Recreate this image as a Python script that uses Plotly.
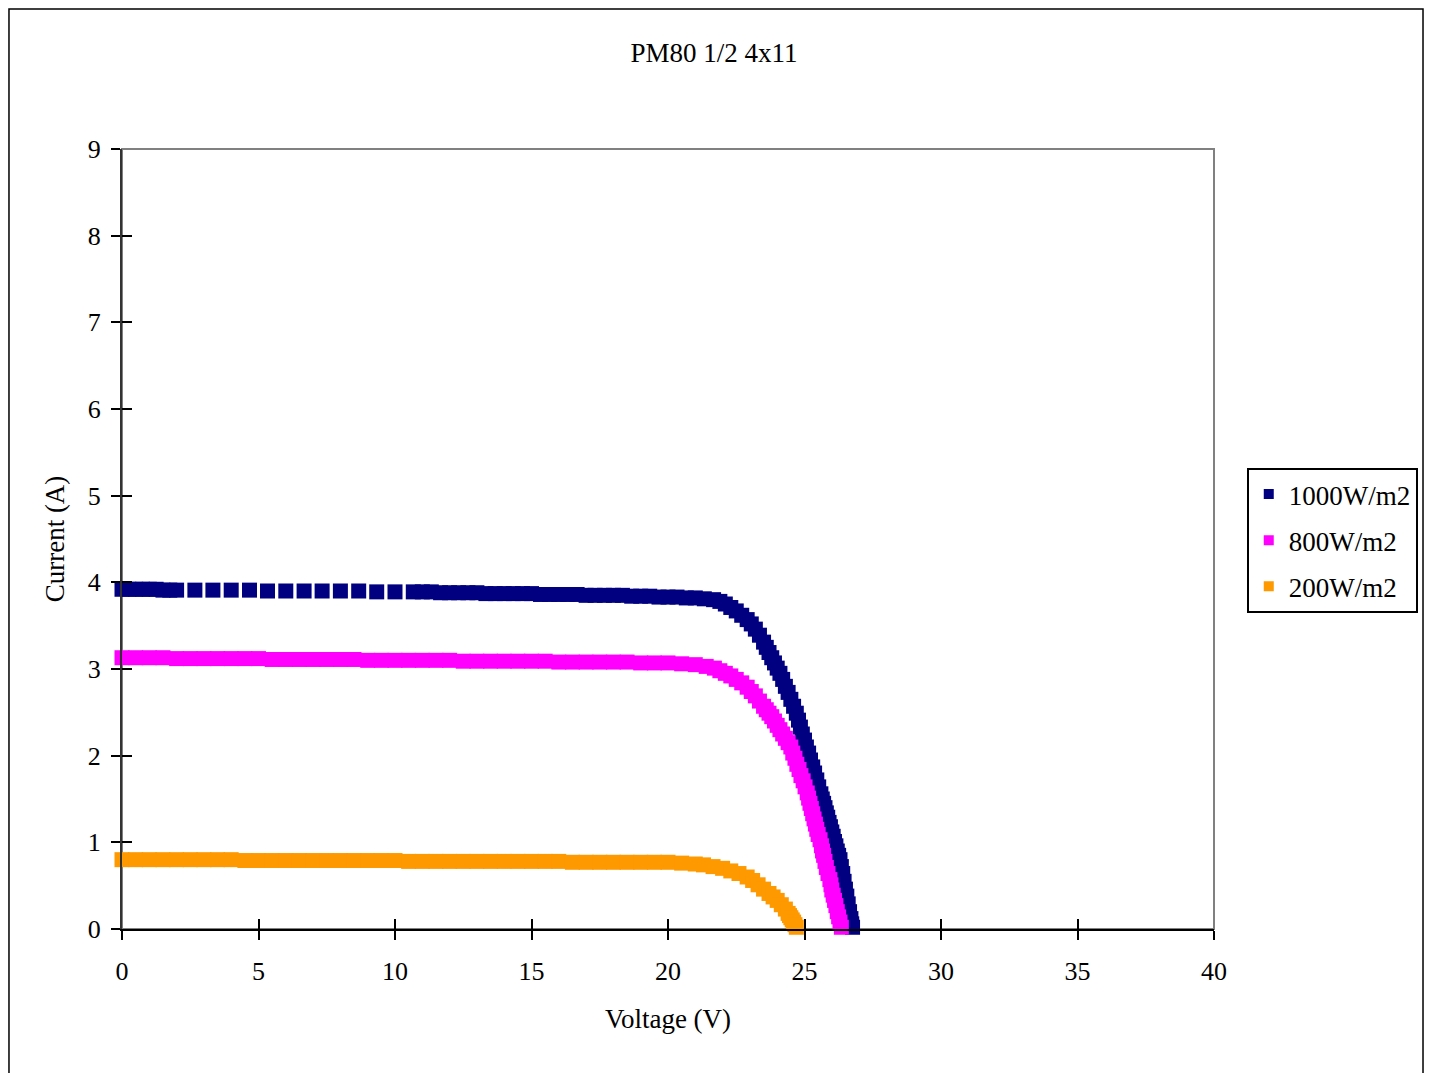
import plotly.graph_objects as go

# ---- data ----
v_1000 = [0, 0.25, 0.5, 0.75, 1.0, 1.25, 1.5, 1.75, 2.0, 2.67, 3.33, 4.0, 4.67, 5.33, 6.0, 6.67,
          7.33, 8.0, 8.67, 9.33, 10.0, 10.67, 11.0, 11.33, 11.67, 12.0, 12.33, 12.67, 13.0, 13.33,
          13.67, 14.0, 14.33, 14.67, 15.0, 15.33, 15.67, 16.0, 16.33, 16.67, 17.0, 17.33, 17.67,
          18.0, 18.33, 18.67, 19.0, 19.33, 19.67, 20.0, 20.33, 20.67, 21.0, 21.33, 21.67,
          21.9, 22.1, 22.3, 22.5, 22.7, 22.9, 23.05, 23.2, 23.35, 23.5, 23.6, 23.7, 23.8, 23.9,
          24.0, 24.1, 24.2, 24.3, 24.4, 24.5, 24.6, 24.7, 24.78, 24.85, 24.92, 25.0, 25.07, 25.15,
          25.22, 25.3, 25.37, 25.45, 25.52, 25.6, 25.65, 25.7, 25.75, 25.8, 25.85, 25.9, 25.95,
          26.0, 26.05, 26.1, 26.15, 26.2, 26.25, 26.3, 26.35, 26.4, 26.45, 26.5, 26.55, 26.6,
          26.65, 26.7, 26.73, 26.76]
i_1000 = [3.92, 3.92, 3.92, 3.92, 3.92, 3.92, 3.91, 3.91, 3.91, 3.91, 3.91, 3.91, 3.91, 3.90, 3.90, 3.90,
          3.90, 3.90, 3.90, 3.89, 3.89, 3.89, 3.89, 3.89, 3.88, 3.88, 3.88, 3.88, 3.88, 3.87,
          3.87, 3.87, 3.87, 3.87, 3.87, 3.86, 3.86, 3.86, 3.86, 3.86, 3.85, 3.85, 3.85,
          3.85, 3.85, 3.84, 3.84, 3.84, 3.83, 3.83, 3.83, 3.82, 3.82, 3.81, 3.80,
          3.78, 3.75, 3.71, 3.67, 3.62, 3.57, 3.52, 3.46, 3.39, 3.31, 3.25, 3.19, 3.13, 3.07,
          3.01, 2.95, 2.88, 2.80, 2.73, 2.65, 2.57, 2.49, 2.41, 2.33, 2.25, 2.18, 2.10, 2.03,
          1.95, 1.87, 1.80, 1.72, 1.64, 1.56, 1.50, 1.45, 1.40, 1.34, 1.29, 1.23, 1.18,
          1.12, 1.07, 1.01, 0.96, 0.90, 0.85, 0.80, 0.72, 0.64, 0.55, 0.46, 0.38, 0.29,
          0.20, 0.12, 0.06, 0.02]

v_800 = [0, 0.5, 1.0, 1.5, 2.0, 2.5, 3.0, 3.5, 4.0, 4.5, 5.0, 5.5, 6.0, 6.5, 7.0, 7.5, 8.0, 8.5,
         9.0, 9.5, 10.0, 10.5, 11.0, 11.5, 12.0, 12.5, 13.0, 13.5, 14.0, 14.5, 15.0, 15.5, 16.0,
         16.5, 17.0, 17.5, 18.0, 18.5, 19.0, 19.5, 20.0, 20.5, 21.0, 21.4, 21.7,
         21.9, 22.1, 22.3, 22.5, 22.7, 22.9, 23.05, 23.2, 23.35, 23.5, 23.6, 23.7, 23.8, 23.9,
         24.0, 24.1, 24.2, 24.3, 24.4, 24.5, 24.57, 24.65, 24.72, 24.8, 24.87, 24.95, 25.02,
         25.1, 25.15, 25.2, 25.25, 25.3, 25.35, 25.4, 25.45, 25.5, 25.57, 25.62, 25.66, 25.7,
         25.75, 25.8, 25.86, 25.93, 25.97, 26.0, 26.05, 26.1, 26.15, 26.2, 26.25, 26.3, 26.35]
i_800 = [3.13, 3.13, 3.13, 3.13, 3.12, 3.12, 3.12, 3.12, 3.12, 3.12, 3.12, 3.11, 3.11, 3.11, 3.11, 3.11, 3.11, 3.11,
         3.10, 3.10, 3.10, 3.10, 3.10, 3.10, 3.10, 3.09, 3.09, 3.09, 3.09, 3.09, 3.09, 3.09, 3.08,
         3.08, 3.08, 3.08, 3.08, 3.08, 3.07, 3.07, 3.07, 3.06, 3.05, 3.03, 3.01,
         2.98, 2.95, 2.92, 2.88, 2.84, 2.79, 2.74, 2.69, 2.63, 2.57, 2.53, 2.49, 2.45, 2.40,
         2.35, 2.30, 2.25, 2.20, 2.15, 2.10, 2.03, 1.97, 1.90, 1.84, 1.77, 1.71, 1.64,
         1.57, 1.51, 1.45, 1.39, 1.33, 1.27, 1.21, 1.15, 1.09, 1.03, 0.96, 0.90, 0.85,
         0.78, 0.71, 0.64, 0.57, 0.51, 0.45, 0.39, 0.33, 0.27, 0.20, 0.14, 0.08, 0.02]

v_200 = [0, 0.5, 1.0, 1.5, 2.0, 2.5, 3.0, 3.5, 4.0, 4.5, 5.0, 5.5, 6.0, 6.5, 7.0, 7.5, 8.0, 8.5,
         9.0, 9.5, 10.0, 10.5, 11.0, 11.5, 12.0, 12.5, 13.0, 13.5, 14.0, 14.5, 15.0, 15.5, 16.0,
         16.5, 17.0, 17.5, 18.0, 18.5, 19.0, 19.5, 20.0, 20.5, 21.0, 21.3, 21.65, 22.0, 22.3,
         22.6, 22.9, 23.1, 23.3, 23.5, 23.7, 23.85, 24.0, 24.15, 24.3, 24.4, 24.45, 24.5, 24.55,
         24.6, 24.65, 24.7]
i_200 = [0.80, 0.80, 0.80, 0.80, 0.80, 0.80, 0.80, 0.80, 0.80, 0.79, 0.79, 0.79, 0.79, 0.79, 0.79, 0.79, 0.79, 0.79,
         0.79, 0.79, 0.79, 0.78, 0.78, 0.78, 0.78, 0.78, 0.78, 0.78, 0.78, 0.78, 0.78, 0.78, 0.78,
         0.77, 0.77, 0.77, 0.77, 0.77, 0.77, 0.77, 0.77, 0.76, 0.75, 0.74, 0.72, 0.70, 0.67,
         0.64, 0.60, 0.56, 0.51, 0.46, 0.41, 0.37, 0.33, 0.28, 0.23, 0.18, 0.155, 0.13, 0.105,
         0.08, 0.05, 0.02]

series_names = ["1000W/m2", "800W/m2", "200W/m2"]
series_colors = ["#000080", "#FF00FF", "#FF9900"]
x_ticks = [0, 5, 10, 15, 20, 25, 30, 35, 40]
y_ticks = [0, 1, 2, 3, 4, 5, 6, 7, 8, 9]

FONT = "Liberation Serif"

fig = go.Figure()
for v, i, name, col in zip([v_1000, v_800, v_200], [i_1000, i_800, i_200], series_names, series_colors):
    fig.add_trace(go.Scatter(x=v, y=i, mode="markers", name=name, showlegend=False,
                             cliponaxis=False,
                             marker=dict(symbol="square", size=15, color=col, line=dict(width=0))))
# legend entries with small markers
for name, col in zip(series_names, series_colors):
    fig.add_trace(go.Scatter(x=[None], y=[None], mode="markers", name=name, legendgroup=name,
                             marker=dict(symbol="square", size=10, color=col, line=dict(width=0))))

fig.update_layout(
    width=1424, height=1065,
    paper_bgcolor="white", plot_bgcolor="white",
    margin=dict(l=114, r=218, t=141, b=144),
    font=dict(family=FONT, size=26, color="black"),
    title=dict(text="PM80 1/2 4x11", x=0.4958, xanchor="center", y=0.958, yanchor="middle",
               font=dict(family=FONT, size=27, color="black")),
    xaxis=dict(range=[0, 40], tickvals=x_ticks, ticks="outside", ticklen=9, tickwidth=1.5,
               tickcolor="black", showline=True, linecolor="black", linewidth=2,
               showgrid=False, zeroline=False, tickfont=dict(size=26), ticklabelstandoff=9,
               title=dict(text="Voltage (V)", standoff=24, font=dict(size=27))),
    yaxis=dict(range=[0, 9], tickvals=y_ticks, ticks="outside", ticklen=9, tickwidth=1.5,
               tickcolor="black", showline=True, linecolor="#333333", linewidth=2,
               showgrid=False, zeroline=False, tickfont=dict(size=26), ticklabelstandoff=5,
               title=dict(text="Current (A)", standoff=15, font=dict(size=27))),
    xaxis2=dict(range=[0, 40], tickvals=x_ticks, ticks="inside", ticklen=10, tickwidth=1.5,
                tickcolor="black", showticklabels=False, overlaying="x", anchor="y",
                side="bottom", showgrid=False, zeroline=False, showline=False),
    yaxis2=dict(range=[0, 9], tickvals=y_ticks, ticks="inside", ticklen=10, tickwidth=1.5,
                tickcolor="black", showticklabels=False, overlaying="y", anchor="x",
                side="left", showgrid=False, zeroline=False, showline=False),
    legend=dict(x=1.030, y=0.591, xanchor="left", yanchor="top",
                bgcolor="white", bordercolor="black", borderwidth=2,
                font=dict(family=FONT, size=27), itemsizing="trace",
                tracegroupgap=8, itemwidth=30),
    showlegend=True,
    shapes=[
        dict(type="rect", xref="paper", yref="paper", x0=0, x1=1, y0=0, y1=1,
             line=dict(color="#808080", width=2), layer="below"),
        dict(type="rect", xref="paper", yref="paper", x0=-0.1035, x1=1.1914, y0=-0.2, y1=1.1795,
             line=dict(color="black", width=1.5), layer="below"),
    ],
)
# dummy invisible trace to activate overlay axes
fig.add_trace(go.Scatter(x=[None], y=[None], xaxis="x2", yaxis="y2", showlegend=False,
                         hoverinfo="skip"))

fig.write_html("out.html")
